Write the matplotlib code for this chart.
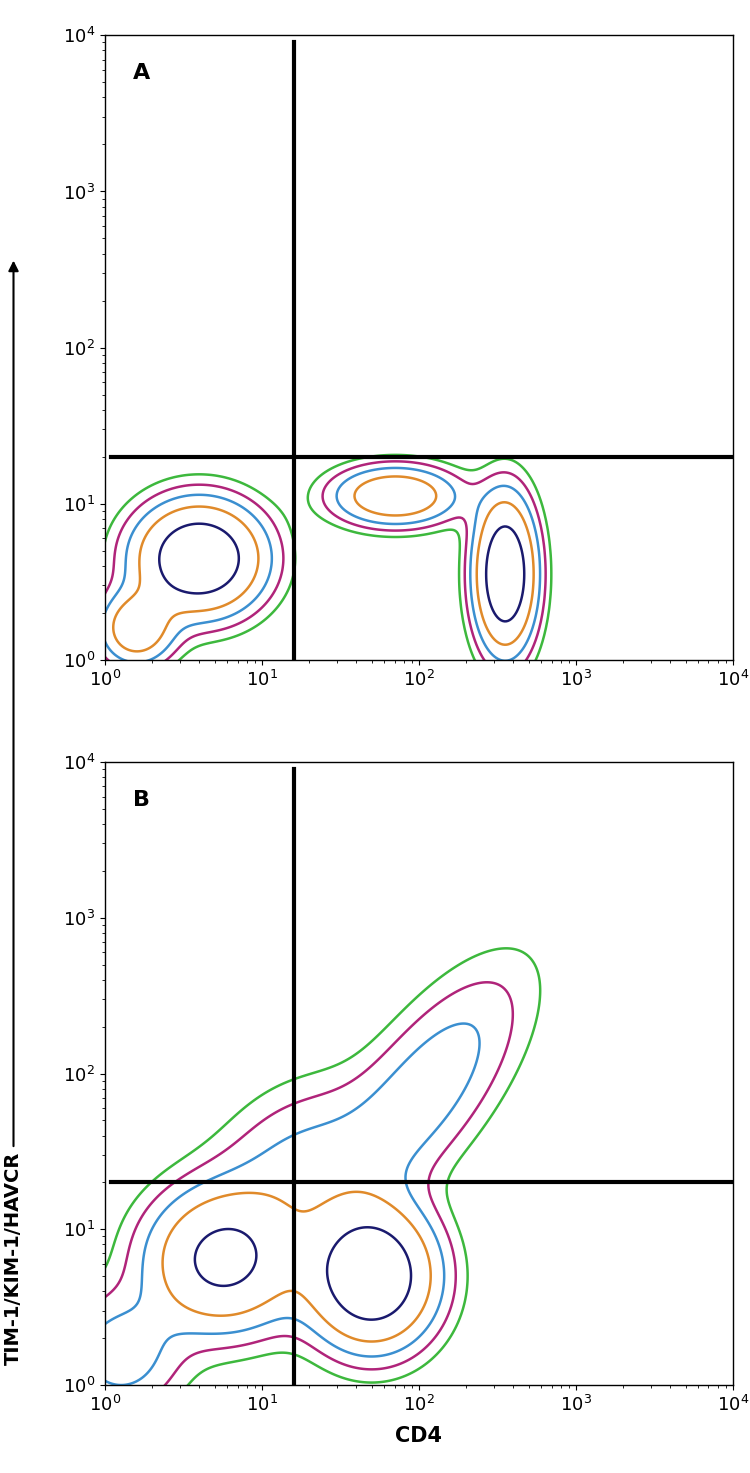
import numpy as np
import matplotlib
matplotlib.use('Agg')
from matplotlib import pyplot as plt

# population blobs in log10 space: centre x, centre y, spread x, spread y, weight, correlation
POP_A_CX = [0.60, 0.20, 1.85, 2.55]
POP_A_CY = [0.65, 0.20, 1.05, 0.55]
POP_A_SX = [0.25, 0.15, 0.25, 0.12]
POP_A_SY = [0.22, 0.15, 0.12, 0.30]
POP_A_W = [1.00, 0.50, 0.55, 1.00]
POP_A_R = [0.0, 0.0, 0.0, 0.0]

POP_B_CX = [0.75, 1.70, 2.05, 1.20, 0.10]
POP_B_CY = [0.80, 0.70, 1.90, 1.40, 0.20]
POP_B_SX = [0.30, 0.25, 0.40, 0.35, 0.25]
POP_B_SY = [0.28, 0.28, 0.50, 0.35, 0.25]
POP_B_W = [0.70, 1.00, 0.26, 0.20, 0.25]
POP_B_R = [0.0, 0.0, 0.7, 0.3, 0.0]

LEVELS = [0.05, 0.10, 0.18, 0.32, 0.60]
LEVEL_COLORS = ['#3db83d', '#b0247a', '#3b8fd0', '#e08a2a', '#1a1a6e']

GATE_X = 16
GATE_Y = 20

plt.rcParams['font.family'] = ['DejaVu Sans']


def density(cx, cy, sx, sy, w, r):
    gx, gy = np.meshgrid(np.linspace(-0.3, 4, 400), np.linspace(-0.3, 4, 400))
    z = np.zeros_like(gx)
    for i in range(len(cx)):
        dx = (gx - cx[i]) / sx[i]
        dy = (gy - cy[i]) / sy[i]
        q = (dx ** 2 - 2 * r[i] * dx * dy + dy ** 2) / (1 - r[i] ** 2)
        z += w[i] * np.exp(-0.5 * q)
    return 10 ** gx, 10 ** gy, z / z.max()


def draw_panel(ax, label, pops):
    x, y, z = density(*pops)
    ax.contour(x, y, z, levels=LEVELS, colors=LEVEL_COLORS, linewidths=1.8)
    ax.set_xscale('log')
    ax.set_yscale('log')
    ax.set_xlim(1, 1e4)
    ax.set_ylim(1, 1e4)
    ax.plot([GATE_X, GATE_X], [1, 9000], color='black', lw=3)
    ax.plot([1.1, 1e4], [GATE_Y, GATE_Y], color='black', lw=3)
    ax.text(0.045, 0.955, label, transform=ax.transAxes, fontsize=16,
            fontweight='bold', va='top')
    ax.tick_params(which='both', direction='out', labelsize=13)
    for s in ax.spines.values():
        s.set_linewidth(1)


fig = plt.figure(figsize=(7.5, 14.73), dpi=100)
ax_a = fig.add_axes([0.14, 0.552, 0.837, 0.424])
ax_b = fig.add_axes([0.14, 0.0597, 0.837, 0.423])
draw_panel(ax_a, 'A', (POP_A_CX, POP_A_CY, POP_A_SX, POP_A_SY, POP_A_W, POP_A_R))
draw_panel(ax_b, 'B', (POP_B_CX, POP_B_CY, POP_B_SX, POP_B_SY, POP_B_W, POP_B_R))

ax_b.set_xlabel('CD4', fontsize=15, fontweight='bold', labelpad=8)
fig.text(0.018, 0.146, 'TIM-1/KIM-1/HAVCR', rotation=90, fontsize=14,
         fontweight='bold', ha='center', va='center')
fig.add_artist(matplotlib.patches.FancyArrowPatch(
    (0.018, 0.22), (0.018, 0.825), transform=fig.transFigure,
    arrowstyle='-|>', mutation_scale=15, color='black', lw=1.5))

fig.savefig('out.png', dpi=100)
